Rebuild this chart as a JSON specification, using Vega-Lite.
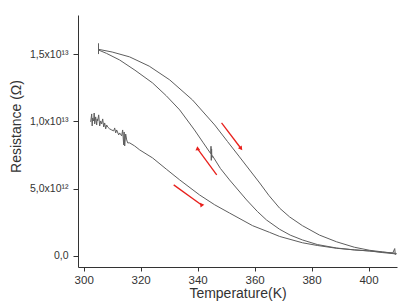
{
  "$schema": "https://vega.github.io/schema/vega-lite/v6.json",
  "width": 319,
  "height": 252,
  "autosize": {"type": "none"},
  "padding": {"left": 78, "top": 15, "right": 20, "bottom": 37},
  "background": "white",
  "config": {
    "view": {"stroke": null},
    "font": "Liberation Sans",
    "axis": {"grid": false, "domainColor": "#333", "tickColor": "#333", "labelColor": "#333", "titleColor": "#333", "labelFont": "Liberation Sans", "titleFont": "Liberation Sans", "titleFontWeight": "normal"}
  },
  "datasets": {
    "curves": [
      {"s": "A", "o": 0, "T": 305.2, "R": 15.8e12},
      {"s": "A", "o": 1, "T": 305.2, "R": 15.0e12},
      {"s": "A", "o": 2, "T": 305.2, "R": 15.35e12},
      {"s": "A", "o": 3, "T": 310, "R": 15.15e12},
      {"s": "A", "o": 4, "T": 316.1, "R": 14.79e12},
      {"s": "A", "o": 5, "T": 323, "R": 14.1e12},
      {"s": "A", "o": 6, "T": 330.2, "R": 13.08e12},
      {"s": "A", "o": 7, "T": 338.2, "R": 11.59e12},
      {"s": "A", "o": 8, "T": 346.0, "R": 9.73e12},
      {"s": "A", "o": 9, "T": 350.5, "R": 8.5e12},
      {"s": "A", "o": 10, "T": 354.7, "R": 7.36e12},
      {"s": "A", "o": 11, "T": 361.8, "R": 5.42e12},
      {"s": "A", "o": 12, "T": 365, "R": 4.5e12},
      {"s": "A", "o": 13, "T": 368.8, "R": 3.55e12},
      {"s": "A", "o": 14, "T": 372.3, "R": 2.9e12},
      {"s": "A", "o": 15, "T": 376.8, "R": 2.25e12},
      {"s": "A", "o": 16, "T": 382.8, "R": 1.55e12},
      {"s": "A", "o": 17, "T": 388.8, "R": 1.05e12},
      {"s": "A", "o": 18, "T": 395, "R": 0.65e12},
      {"s": "A", "o": 19, "T": 400.4, "R": 0.42e12},
      {"s": "A", "o": 20, "T": 405, "R": 0.3e12},
      {"s": "A", "o": 21, "T": 408.4, "R": 0.22e12},
      {"s": "A", "o": 22, "T": 409.5, "R": 0.2e12},

      {"s": "B", "o": 0, "T": 305.2, "R": 15.3e12},
      {"s": "B", "o": 1, "T": 308, "R": 15.05e12},
      {"s": "B", "o": 2, "T": 312.6, "R": 14.56e12},
      {"s": "B", "o": 3, "T": 318, "R": 13.8e12},
      {"s": "B", "o": 4, "T": 324.2, "R": 12.85e12},
      {"s": "B", "o": 5, "T": 329, "R": 11.9e12},
      {"s": "B", "o": 6, "T": 333.7, "R": 10.85e12},
      {"s": "B", "o": 7, "T": 338.9, "R": 9.36e12},
      {"s": "B", "o": 8, "T": 342, "R": 8.4e12},
      {"s": "B", "o": 9, "T": 344.6, "R": 7.6e12},
      {"s": "B", "o": 10, "T": 344.7, "R": 8.15e12},
      {"s": "B", "o": 11, "T": 344.8, "R": 7.1e12},
      {"s": "B", "o": 12, "T": 344.9, "R": 7.95e12},
      {"s": "B", "o": 13, "T": 345.0, "R": 7.3e12},
      {"s": "B", "o": 14, "T": 345.2, "R": 7.45e12},
      {"s": "B", "o": 15, "T": 348, "R": 6.5e12},
      {"s": "B", "o": 16, "T": 351.2, "R": 5.65e12},
      {"s": "B", "o": 17, "T": 357.2, "R": 4.16e12},
      {"s": "B", "o": 18, "T": 361, "R": 3.3e12},
      {"s": "B", "o": 19, "T": 364.2, "R": 2.67e12},
      {"s": "B", "o": 20, "T": 368.8, "R": 1.98e12},
      {"s": "B", "o": 21, "T": 372.5, "R": 1.55e12},
      {"s": "B", "o": 22, "T": 376.8, "R": 1.19e12},
      {"s": "B", "o": 23, "T": 382, "R": 0.85e12},
      {"s": "B", "o": 24, "T": 388.8, "R": 0.59e12},
      {"s": "B", "o": 25, "T": 395, "R": 0.45e12},
      {"s": "B", "o": 26, "T": 400.4, "R": 0.37e12},
      {"s": "B", "o": 27, "T": 405, "R": 0.25e12},
      {"s": "B", "o": 28, "T": 409.8, "R": 0.15e12},

      {"s": "C", "o": 0, "T": 302.46, "R": 9.96e12},
      {"s": "C", "o": 1, "T": 302.81, "R": 10.55e12},
      {"s": "C", "o": 2, "T": 302.98, "R": 9.66e12},
      {"s": "C", "o": 3, "T": 303.16, "R": 10.25e12},
      {"s": "C", "o": 4, "T": 303.51, "R": 10.03e12},
      {"s": "C", "o": 5, "T": 303.68, "R": 10.62e12},
      {"s": "C", "o": 6, "T": 303.86, "R": 9.81e12},
      {"s": "C", "o": 7, "T": 304.21, "R": 10.33e12},
      {"s": "C", "o": 8, "T": 304.56, "R": 9.73e12},
      {"s": "C", "o": 9, "T": 304.74, "R": 10.18e12},
      {"s": "C", "o": 10, "T": 304.91, "R": 10.03e12},
      {"s": "C", "o": 11, "T": 305.26, "R": 10.48e12},
      {"s": "C", "o": 12, "T": 305.61, "R": 9.66e12},
      {"s": "C", "o": 13, "T": 305.96, "R": 10.03e12},
      {"s": "C", "o": 14, "T": 306.32, "R": 9.81e12},
      {"s": "C", "o": 15, "T": 306.67, "R": 10.18e12},
      {"s": "C", "o": 16, "T": 307.02, "R": 9.58e12},
      {"s": "C", "o": 17, "T": 307.37, "R": 9.88e12},
      {"s": "C", "o": 18, "T": 307.72, "R": 9.44e12},
      {"s": "C", "o": 19, "T": 308.07, "R": 9.73e12},
      {"s": "C", "o": 20, "T": 308.42, "R": 9.58e12},
      {"s": "C", "o": 21, "T": 309.12, "R": 9.44e12},
      {"s": "C", "o": 22, "T": 309.82, "R": 9.36e12},
      {"s": "C", "o": 23, "T": 310.53, "R": 9.29e12},
      {"s": "C", "o": 24, "T": 310.88, "R": 9.51e12},
      {"s": "C", "o": 25, "T": 311.23, "R": 9.14e12},
      {"s": "C", "o": 26, "T": 311.58, "R": 9.36e12},
      {"s": "C", "o": 27, "T": 312.28, "R": 8.99e12},
      {"s": "C", "o": 28, "T": 312.63, "R": 9.14e12},
      {"s": "C", "o": 29, "T": 313.33, "R": 8.92e12},
      {"s": "C", "o": 30, "T": 313.68, "R": 9.36e12},
      {"s": "C", "o": 31, "T": 314.04, "R": 8.25e12},
      {"s": "C", "o": 32, "T": 314.21, "R": 9.21e12},
      {"s": "C", "o": 33, "T": 314.39, "R": 8.17e12},
      {"s": "C", "o": 34, "T": 314.74, "R": 9.06e12},
      {"s": "C", "o": 35, "T": 315.09, "R": 8.62e12},
      {"s": "C", "o": 36, "T": 315.44, "R": 8.40e12},
      {"s": "C", "o": 37, "T": 316.14, "R": 8.40e12},
      {"s": "C", "o": 38, "T": 317.9, "R": 8.17e12},
      {"s": "C", "o": 39, "T": 319.65, "R": 7.88e12},
      {"s": "C", "o": 40, "T": 324.2, "R": 7.28e12},
      {"s": "C", "o": 41, "T": 329, "R": 6.45e12},
      {"s": "C", "o": 42, "T": 333.7, "R": 5.65e12},
      {"s": "C", "o": 43, "T": 340.7, "R": 4.53e12},
      {"s": "C", "o": 44, "T": 346, "R": 3.8e12},
      {"s": "C", "o": 45, "T": 351.2, "R": 3.19e12},
      {"s": "C", "o": 46, "T": 359.3, "R": 2.25e12},
      {"s": "C", "o": 47, "T": 365.3, "R": 1.75e12},
      {"s": "C", "o": 48, "T": 368.8, "R": 1.45e12},
      {"s": "C", "o": 49, "T": 376.8, "R": 0.98e12},
      {"s": "C", "o": 50, "T": 382, "R": 0.78e12},
      {"s": "C", "o": 51, "T": 388.8, "R": 0.57e12},
      {"s": "C", "o": 52, "T": 395, "R": 0.45e12},
      {"s": "C", "o": 53, "T": 400.4, "R": 0.37e12},
      {"s": "C", "o": 54, "T": 405, "R": 0.28e12},
      {"s": "C", "o": 55, "T": 408.5, "R": 0.22e12},
      {"s": "C", "o": 56, "T": 409.2, "R": 0.55e12},
      {"s": "C", "o": 57, "T": 409.4, "R": 0.1e12},
      {"s": "C", "o": 58, "T": 409.8, "R": 0.2e12}
    ],
    "arrows": [
      {"a": "a", "T1": 348.4, "R1": 9.88e12, "T2": 355.1, "R2": 8.02e12},
      {"a": "b", "T1": 346.7, "R1": 6.02e12, "T2": 340.0, "R2": 7.95e12},
      {"a": "c", "T1": 331.6, "R1": 5.28e12, "T2": 341.4, "R2": 3.79e12}
    ]
  },
  "layer": [
    {
      "data": {"name": "curves"},
      "mark": {"type": "line", "color": "#5e5e5e", "strokeWidth": 1},
      "encoding": {
        "x": {
          "field": "T", "type": "quantitative",
          "scale": {"domain": [298, 410], "nice": false, "zero": false},
          "axis": {
            "title": "Temperature(K)",
            "titleFontSize": 14,
            "titlePadding": 1,
            "values": [300, 310, 320, 330, 340, 350, 360, 370, 380, 390, 400, 410],
            "labelExpr": "datum.value % 20 === 0 ? datum.value : ''",
            "labelFontSize": 11.5,
            "labelPadding": 3,
            "tickSize": {"condition": {"test": "datum.value % 20 === 0", "value": 4}, "value": 3}
          }
        },
        "y": {
          "field": "R", "type": "quantitative",
          "scale": {"domain": [-0.82e12, 17.9e12], "nice": false, "zero": false},
          "axis": {
            "title": "Resistance (Ω)",
            "titleFontSize": 14,
            "titlePadding": 6,
            "titleY": 111,
            "values": [0, 2.5e12, 5e12, 7.5e12, 10e12, 12.5e12, 15e12, 17.5e12],
            "labelExpr": "datum.value === 0 ? '0,0' : datum.value === 5e12 ? '5,0x10¹²' : datum.value === 10e12 ? '1,0x10¹³' : datum.value === 15e12 ? '1,5x10¹³' : ''",
            "labelFontSize": 10.5,
            "labelPadding": 5,
            "tickSize": {"condition": {"test": "datum.value % 5e12 === 0", "value": 5}, "value": 3}
          }
        },
        "detail": {"field": "s", "type": "nominal"},
        "order": {"field": "o", "type": "quantitative"}
      }
    },
    {
      "data": {"name": "arrows"},
      "mark": {"type": "rule", "color": "#e8201c", "strokeWidth": 1.3},
      "encoding": {
        "x": {"field": "T1", "type": "quantitative"},
        "y": {"field": "R1", "type": "quantitative"},
        "x2": {"field": "T2"},
        "y2": {"field": "R2"}
      }
    },
    {
      "data": {"name": "arrows"},
      "mark": {"type": "point", "shape": "triangle", "filled": true, "color": "#e8201c", "size": 22, "opacity": 1},
      "encoding": {
        "x": {"field": "T2", "type": "quantitative"},
        "y": {"field": "R2", "type": "quantitative"},
        "angle": {"field": "a", "type": "nominal", "scale": {"domain": ["a", "b", "c"], "range": [143, 324, 125]}, "legend": null}
      }
    }
  ]
}
